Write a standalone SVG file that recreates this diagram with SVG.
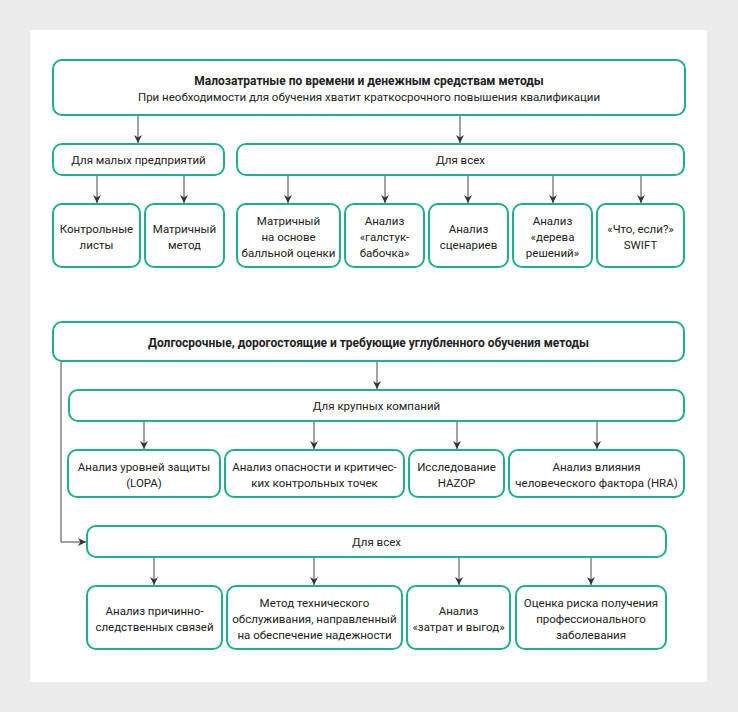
<svg xmlns="http://www.w3.org/2000/svg" width="738" height="712" viewBox="0 0 738 712">
<defs>
<style>
.n rect{fill:#fff;stroke:#1fae8e;stroke-width:2}
text{font-family:Roboto,"Noto Sans","Liberation Sans",sans-serif;font-size:11.5px;fill:#222;text-anchor:middle}
.b{font-weight:bold;font-size:12px}
.c line,.c path{stroke:#444;stroke-width:1;fill:none;marker-end:url(#ah)}
</style>
<marker id="ah" viewBox="0 0 10 10" refX="10" refY="5" markerWidth="8" markerHeight="8" markerUnits="userSpaceOnUse" orient="auto">
<path d="M0,0 L10,5 L0,10 L3,5 z" fill="#333"/>
</marker>
</defs>
<rect x="0" y="0" width="738" height="712" fill="#ececec"/>
<rect x="30" y="30" width="677" height="652" fill="#fff"/>

<g class="c">
<line x1="138" y1="115" x2="138" y2="143"/>
<line x1="460" y1="115" x2="460" y2="143"/>
<line x1="97" y1="175" x2="97" y2="203"/>
<line x1="184" y1="175" x2="184" y2="203"/>
<line x1="288" y1="175" x2="288" y2="203"/>
<line x1="385" y1="175" x2="385" y2="203"/>
<line x1="468" y1="175" x2="468" y2="203"/>
<line x1="553" y1="175" x2="553" y2="203"/>
<line x1="641" y1="175" x2="641" y2="203"/>
<line x1="377" y1="361" x2="377" y2="389"/>
<line x1="144" y1="421" x2="144" y2="449"/>
<line x1="314" y1="421" x2="314" y2="449"/>
<line x1="457" y1="421" x2="457" y2="449"/>
<line x1="597" y1="421" x2="597" y2="449"/>
<path d="M61 361 V542 H86"/>
<line x1="154" y1="557" x2="154" y2="585"/>
<line x1="314" y1="557" x2="314" y2="585"/>
<line x1="459" y1="557" x2="459" y2="585"/>
<line x1="591" y1="557" x2="591" y2="585"/>
</g>

<g id="top" class="n"><rect x="53" y="60" width="632" height="55" rx="9"/>
<text x="369" y="85" class="b">Малозатратные по времени и денежным средствам методы</text>
<text x="369" y="101">При необходимости для обучения хватит краткосрочного повышения квалификации</text></g>

<g id="small" class="n"><rect x="53" y="144" width="171" height="31" rx="9"/>
<text x="138.5" y="164">Для малых предприятий</text></g>
<g id="all1" class="n"><rect x="237" y="144" width="447" height="31" rx="9"/>
<text x="460.5" y="164">Для всех</text></g>

<g id="checklists" class="n"><rect x="53" y="204" width="87" height="63" rx="9"/>
<text x="96.5" y="233">Контрольные</text><text x="96.5" y="249">листы</text></g>
<g id="matrix" class="n"><rect x="145" y="204" width="79" height="63" rx="9"/>
<text x="184.5" y="233">Матричный</text><text x="184.5" y="249">метод</text></g>
<g id="matrixscore" class="n"><rect x="237" y="204" width="103" height="63" rx="9"/>
<text x="288.5" y="225">Матричный</text><text x="288.5" y="241">на основе</text><text x="288.5" y="257">балльной оценки</text></g>
<g id="bowtie" class="n"><rect x="345" y="204" width="79" height="63" rx="9"/>
<text x="384.5" y="225">Анализ</text><text x="384.5" y="241">«галстук-</text><text x="384.5" y="257">бабочка»</text></g>
<g id="scenario" class="n"><rect x="429" y="204" width="79" height="63" rx="9"/>
<text x="468.5" y="233">Анализ</text><text x="468.5" y="249">сценариев</text></g>
<g id="tree" class="n"><rect x="513" y="204" width="79" height="63" rx="9"/>
<text x="552.5" y="225">Анализ</text><text x="552.5" y="241">«дерева</text><text x="552.5" y="257">решений»</text></g>
<g id="swift" class="n"><rect x="597" y="204" width="87" height="63" rx="9"/>
<text x="640.5" y="233">«Что, если?»</text><text x="640.5" y="249">SWIFT</text></g>

<g id="long" class="n"><rect x="53" y="322" width="631" height="39" rx="9"/>
<text x="368.5" y="347" class="b">Долгосрочные, дорогостоящие и требующие углубленного обучения методы</text></g>
<g id="large" class="n"><rect x="69" y="390" width="615" height="31" rx="9"/>
<text x="376.5" y="410">Для крупных компаний</text></g>

<g id="lopa" class="n"><rect x="68" y="450" width="152" height="47" rx="9"/>
<text x="144" y="471">Анализ уровней защиты</text><text x="144" y="487">(LOPA)</text></g>
<g id="haccp" class="n"><rect x="225" y="450" width="179" height="47" rx="9"/>
<text x="314.5" y="471">Анализ опасности и критичес-</text><text x="314.5" y="487">ких контрольных точек</text></g>
<g id="hazop" class="n"><rect x="409" y="450" width="95" height="47" rx="9"/>
<text x="456.5" y="471">Исследование</text><text x="456.5" y="487">HAZOP</text></g>
<g id="hra" class="n"><rect x="509" y="450" width="175" height="47" rx="9"/>
<text x="596.5" y="471">Анализ влияния</text><text x="596.5" y="487">человеческого фактора (HRA)</text></g>

<g id="all2" class="n"><rect x="87" y="526" width="579" height="31" rx="9"/>
<text x="376.5" y="546">Для всех</text></g>

<g id="cause" class="n"><rect x="87" y="586" width="135" height="63" rx="9"/>
<text x="154.5" y="615">Анализ причинно-</text><text x="154.5" y="631">следственных связей</text></g>
<g id="rcm" class="n"><rect x="227" y="586" width="175" height="63" rx="9"/>
<text x="314.5" y="607">Метод технического</text><text x="314.5" y="623">обслуживания, направленный</text><text x="314.5" y="639">на обеспечение надежности</text></g>
<g id="cba" class="n"><rect x="407" y="586" width="103" height="63" rx="9"/>
<text x="458.5" y="615">Анализ</text><text x="458.5" y="631">«затрат и выгод»</text></g>
<g id="occ" class="n"><rect x="516" y="586" width="150" height="63" rx="9"/>
<text x="591" y="607">Оценка риска получения</text><text x="591" y="623">профессионального</text><text x="591" y="639">заболевания</text></g>
</svg>
